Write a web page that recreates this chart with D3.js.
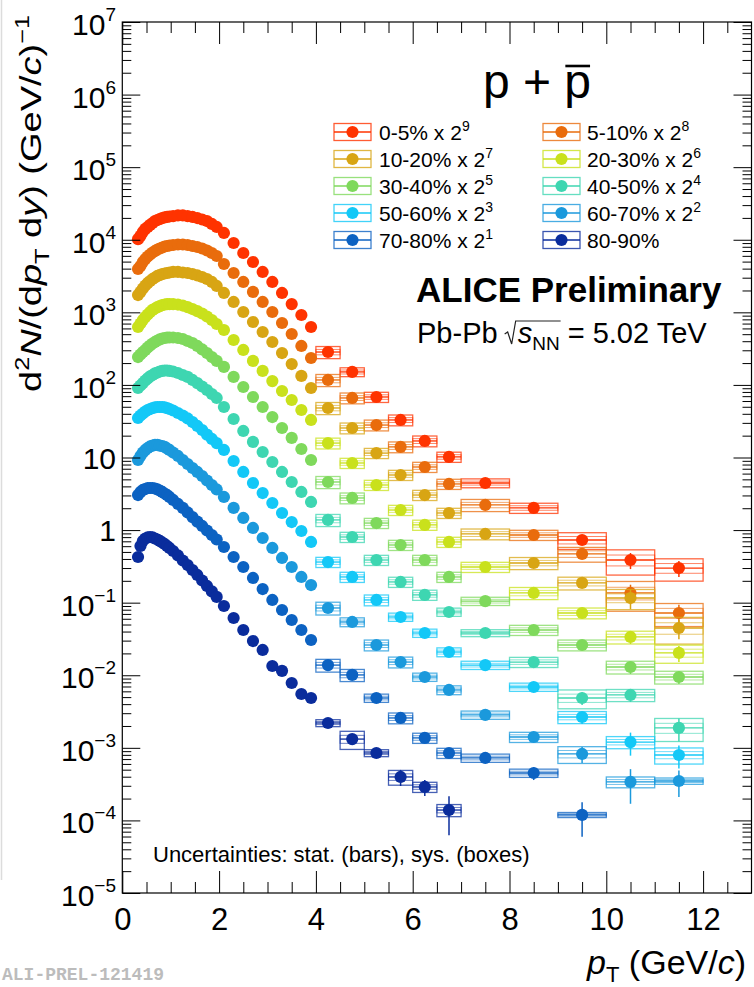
<!DOCTYPE html>
<html><head><meta charset="utf-8">
<script src="https://cdn.jsdelivr.net/npm/d3@7"></script>
<style>
html,body{margin:0;padding:0;background:#fff;}
svg{display:block;font-family:"Liberation Sans",Arial,Helvetica,sans-serif;}
</style></head><body>
<svg id="chart" width="754" height="987"></svg>
<script>
// ---------------- DATA ----------------
const ptEdges = [0.30,0.35,0.40,0.45,0.50,0.55,0.60,0.65,0.70,0.75,0.80,0.85,0.90,0.95,1.00,
  1.10,1.20,1.30,1.40,1.50,1.60,1.70,1.80,1.90,2.00,2.20,2.40,2.60,2.80,3.00,3.20,3.40,3.60,3.80,4.00,
  4.50,5.00,5.50,6.00,6.50,7.00,8.00,9.00,10.00,11.00,12.00];
const ptCenters = [0.325,0.375,0.425,0.475,0.525,0.575,0.625,0.675,0.725,0.775,0.825,0.875,0.925,0.975,
  1.05,1.15,1.25,1.35,1.45,1.55,1.65,1.75,1.85,1.95,2.1,2.3,2.5,2.7,2.9,3.1,3.3,3.5,3.7,3.9,
  4.25,4.75,5.25,5.75,6.25,6.75,7.5,8.5,9.5,10.5,11.5];

const centralities = ["0-5%","5-10%","10-20%","20-30%","30-40%","40-50%","50-60%","60-70%","70-80%","80-90%"];
const scaleExponents = [9,8,7,6,5,4,3,2,1,null];
const colors = ["#ff3300","#e96c0c","#d8a514","#c9e11c","#7fd95c","#3ed6b1","#13c8f7","#1b99dc","#0c62c2","#0a2c9c"];

const yield0_5 = [1.02e4,1.13e4,1.28e4,1.41e4,1.50e4,1.60e4,1.70e4,1.81e4,1.87e4,1.93e4,1.99e4,2.03e4,2.06e4,2.09e4,
  2.12e4,2.16e4,2.16e4,2.12e4,2.06e4,1.99e4,1.90e4,1.81e4,1.65e4,1.50e4,1.24e4,9020,6570,4940,3600,2620,1850,1300,919,628,
  284,151,68.2,32.9,16.9,10.2,4.45,2.02,0.730,0.387,0.300];
const yield5_10 = [3960,4350,4940,5430,5880,6260,6670,7000,7340,7580,7820,8070,8200,8330,
  8470,8600,8600,8470,8200,7950,7580,7110,6570,5970,4630,3480,2620,1910,1390,1010,713,503,344,235,
  117,66.1,28.0,14.0,7.40,4.32,2.22,0.856,0.469,0.136,0.0721];
const yield10_20 = [1730,1910,2130,2340,2540,2700,2880,3020,3170,3270,3370,3430,3480,3540,
  3600,3600,3540,3480,3370,3220,3070,2880,2620,2310,1850,1390,1010,736,536,390,275,194,133,90.7,
  48.1,25.5,11.5,5.74,3.04,1.72,0.884,0.352,0.187,0.116,0.0448];
const yield20_30 = [628,702,784,863,934,1010,1080,1130,1180,1220,1260,1280,1300,1300,
  1300,1280,1240,1180,1110,1040,964,876,784,691,571,416,303,214,156,113,82.5,62.0,45.1,32.9,
  15.8,8.40,4.18,1.89,1.18,0.686,0.310,0.136,0.0721,0.0337,0.0203];
const yield30_40 = [242,262,284,303,328,349,372,390,409,423,436,443,450,450,
  450,443,429,403,378,344,308,275,242,214,177,129,93.6,68.2,49.6,36.1,25.5,18.6,13.1,9.24,
  4.60,2.77,1.25,0.623,0.387,0.226,0.105,0.0420,0.0261,0.0130,0.00946];
const yield40_50 = [90.7,98.2,106,115,123,131,137,144,148,153,156,158,158,156,
  153,146,137,129,117,106,95.1,85.1,75.0,66.1,49.6,33.9,23.2,16.4,11.9,8.67,6.32,4.60,3.35,2.44,
  1.38,0.803,0.387,0.193,0.128,0.0744,0.0382,0.0152,0.00486,0.00535,0.00188];
const yield50_60 = [35.0,37.9,40.4,43.0,45.1,46.6,48.1,48.9,49.6,49.6,49.6,48.9,48.1,46.6,
  44.4,41.0,37.9,34.5,30.8,27.2,23.9,20.7,18.0,15.8,12.7,8.95,6.32,4.45,3.24,2.36,1.72,1.29,0.972,0.686,
  0.363,0.226,0.109,0.0635,0.0382,0.0209,0.0138,0.00689,0.00266,0.00120,0.000797];
const yield60_70 = [9.24,10.5,11.7,12.7,13.5,14.2,14.6,14.9,14.9,14.6,14.4,14.0,13.3,12.7,
  11.7,10.5,9.24,8.14,7.17,6.32,5.56,4.82,4.18,3.63,2.86,2.02,1.47,1.07,0.778,0.567,0.413,0.310,0.226,0.175,
  0.0845,0.0542,0.0261,0.0152,0.00946,0.00627,0.00284,0.00141,0.000823,0.000339,0.000349];
const yield70_80 = [3.04,3.35,3.57,3.68,3.80,3.80,3.80,3.74,3.63,3.51,3.35,3.19,3.04,2.86,
  2.60,2.29,2.02,1.75,1.51,1.31,1.14,0.987,0.856,0.742,0.585,0.426,0.310,0.219,0.154,0.109,0.0793,0.0577,0.0420,0.0306,
  0.0138,0.0101,0.00486,0.00258,0.00137,0.000849,0.000725,0.000450,0.000119];
const yield80_90 = [0.426,0.604,0.708,0.766,0.791,0.803,0.791,0.766,0.742,0.708,0.675,0.643,0.604,0.567,
  0.515,0.447,0.381,0.330,0.282,0.241,0.202,0.170,0.143,0.120,0.0900,0.0615,0.0420,0.0296,0.0223,0.0134,0.0115,0.00782,0.00552,0.00486,
  0.00220,0.00132,0.000849,0.000397,0.000289,0.000139];

// relative systematic (boxes) and statistical (bars) uncertainties for pT > 4 GeV/c bins
const highPtStart = 34;
const sys0_5   = [0.19,0.14,0.16,0.17,0.17,0.16,0.14,0.16,0.26,0.38,0.34];
const sys5_10  = [0.19,0.17,0.17,0.17,0.16,0.16,0.19,0.16,0.23,0.44,0.35];
const sys10_20 = [0.19,0.17,0.16,0.16,0.16,0.16,0.17,0.19,0.20,0.31,0.40];
const sys20_30 = [0.17,0.16,0.16,0.16,0.16,0.16,0.16,0.19,0.17,0.20,0.28];
const sys30_40 = [0.19,0.17,0.16,0.16,0.16,0.16,0.13,0.16,0.17,0.20,0.20];
const sys40_50 = [0.19,0.16,0.16,0.16,0.16,0.13,0.11,0.16,0.29,0.19,0.35];
const sys50_60 = [0.16,0.16,0.17,0.13,0.13,0.14,0.13,0.13,0.19,0.19,0.25];
const sys60_70 = [0.20,0.14,0.17,0.17,0.13,0.14,0.13,0.16,0.26,0.17,0.10];
const sys70_80 = [0.20,0.19,0.13,0.17,0.16,0.16,0.13,0.13,0.08];
const sys80_90 = [0.11,0.28,0.11,0.23,0.16,0.19];
const stat0_5   = [0.02,0.02,0.03,0.03,0.04,0.05,0.05,0.07,0.12,0.25,0.25];
const stat5_10  = [0.02,0.03,0.03,0.04,0.05,0.05,0.06,0.08,0.12,0.30,0.30];
const stat10_20 = [0.02,0.03,0.03,0.04,0.05,0.06,0.06,0.08,0.12,0.30,0.30];
const stat20_30 = [0.03,0.03,0.04,0.04,0.05,0.06,0.07,0.09,0.12,0.20,0.25];
const stat30_40 = [0.03,0.03,0.04,0.05,0.06,0.07,0.08,0.10,0.12,0.20,0.20];
const stat40_50 = [0.03,0.04,0.05,0.06,0.07,0.08,0.09,0.12,0.20,0.20,0.35];
const stat50_60 = [0.04,0.05,0.06,0.07,0.08,0.10,0.10,0.12,0.20,0.35,0.35];
const stat60_70 = [0.05,0.06,0.07,0.08,0.10,0.12,0.12,0.15,0.25,0.50,0.40];
const stat70_80 = [0.06,0.08,0.10,0.10,0.12,0.15,0.15,0.20,0.50];
const stat80_90 = [0.08,0.10,0.15,0.25,0.25,0.55];

const xMajorTicks = [0,2,4,6,8,10,12];
const yDecades = [1e7,1e6,1e5,1e4,1e3,1e2,10,1,1e-1,1e-2,1e-3,1e-4,1e-5];
const yTickBase = ["10","10","10","10","10","10","10","1","10","10","10","10","10"];
const yTickSup  = ["7","6","5","4","3","2","","","\u22121","\u22122","\u22123","\u22124","\u22125"];

const seriesYields = [yield0_5,yield5_10,yield10_20,yield20_30,yield30_40,yield40_50,yield50_60,yield60_70,yield70_80,yield80_90];
const seriesSys = [sys0_5,sys5_10,sys10_20,sys20_30,sys30_40,sys40_50,sys50_60,sys60_70,sys70_80,sys80_90];
const seriesStat = [stat0_5,stat5_10,stat10_20,stat20_30,stat30_40,stat40_50,stat50_60,stat60_70,stat70_80,stat80_90];

// ---------------- CHART ----------------
const svg = d3.select("#chart");
const X0 = 122.3, X1 = 751.5, Y0 = 893, Y1 = 22;
const x = d3.scaleLinear().domain([0,13]).range([X0,X1]);
const y = d3.scaleLog().domain([1e-5,1e7]).range([Y0,Y1]);

svg.append("line").attr("x1",1.5).attr("x2",1.5).attr("y1",0).attr("y2",880)
  .attr("stroke","#dcdcdc").attr("stroke-width",1.5);

function richText(parent, parts, attrs){
  const t = parent.append("text");
  Object.entries(attrs).forEach(([k,v])=>t.attr(k,v));
  let shift = 0;
  parts.forEach(p=>{
    const ts = t.append("tspan").text(p.t);
    const target = p.sup ? -p.sup : (p.sub ? p.sub : 0);
    const dy = target - shift;
    if (dy) ts.attr("dy", dy);
    shift = target;
    if (p.it) ts.attr("font-style","italic");
    if (p.size) ts.attr("font-size", p.size);
    if (p.dx) ts.attr("dx", p.dx);
  });
  return t;
}

// data
const plot = svg.append("g");
seriesYields.forEach((vals, si)=>{
  const col = colors[si];
  const g = plot.append("g");
  vals.forEach((v,i)=>{
    const xl = x(ptEdges[i]), xr = x(ptEdges[i+1]), cx = x(ptCenters[i]), cy = y(v);
    if (i >= highPtStart){
      const s = seriesSys[si][i-highPtStart], st = seriesStat[si][i-highPtStart];
      g.append("rect").attr("x",xl).attr("width",xr-xl)
        .attr("y",y(v*(1+s))).attr("height",y(v*(1-s))-y(v*(1+s)))
        .attr("fill","none").attr("stroke",col).attr("stroke-width",1.3).attr("stroke-opacity",0.75);
      const s2 = s*0.45;
      g.append("rect").attr("x",xl).attr("width",xr-xl)
        .attr("y",y(v*(1+s2))).attr("height",y(v*(1-s2))-y(v*(1+s2)))
        .attr("fill","none").attr("stroke",col).attr("stroke-width",1).attr("stroke-opacity",0.6);
      g.append("line").attr("x1",cx).attr("x2",cx)
        .attr("y1",y(v*(1+st))).attr("y2",y(v*Math.max(1-st,0.01)))
        .attr("stroke",col).attr("stroke-width",1.5);
    }
    g.append("line").attr("x1",xl).attr("x2",xr).attr("y1",cy).attr("y2",cy)
      .attr("stroke",col).attr("stroke-width",1.3);
  });
  g.selectAll("circle.m").data(vals).join("circle").attr("class","m")
    .attr("cx",(d,i)=>x(ptCenters[i])).attr("cy",d=>y(d)).attr("r",6.1).attr("fill",col);
});

// axes
function styleAxis(sel){ sel.select(".domain").remove(); sel.selectAll(".tick line").attr("stroke","#000").attr("stroke-width",1); }
const xMinor = d3.range(0,13.01,0.5).filter(v=>!xMajorTicks.includes(v) && v<13);
const yMinor = [];
for (let e=-5;e<7;e++) for (let k=2;k<=9;k++) yMinor.push(k*Math.pow(10,e));

const gx = svg.append("g").attr("transform",`translate(0,${Y0})`)
  .call(d3.axisBottom(x).tickValues(xMajorTicks).tickSize(-22).tickPadding(15).tickFormat(d3.format("d")));
styleAxis(gx);
gx.selectAll(".tick text").attr("font-size",31).attr("font-family","Liberation Sans, Arial, sans-serif").attr("fill","#000");
svg.append("g").attr("transform",`translate(0,${Y0})`).call(d3.axisBottom(x).tickValues(xMinor).tickSize(-11).tickFormat("")).call(styleAxis);
svg.append("g").attr("transform",`translate(0,${Y1})`).call(d3.axisTop(x).tickValues(xMajorTicks).tickSize(-22).tickFormat("")).call(styleAxis);
svg.append("g").attr("transform",`translate(0,${Y1})`).call(d3.axisTop(x).tickValues(xMinor).tickSize(-11).tickFormat("")).call(styleAxis);
svg.append("g").attr("transform",`translate(${X0},0)`).call(d3.axisLeft(y).tickValues(yDecades).tickSize(-18).tickFormat("")).call(styleAxis);
svg.append("g").attr("transform",`translate(${X0},0)`).call(d3.axisLeft(y).tickValues(yMinor).tickSize(-9).tickFormat("")).call(styleAxis);
svg.append("g").attr("transform",`translate(${X1},0)`).call(d3.axisRight(y).tickValues(yDecades).tickSize(-18).tickFormat("")).call(styleAxis);
svg.append("g").attr("transform",`translate(${X1},0)`).call(d3.axisRight(y).tickValues(yMinor).tickSize(-9).tickFormat("")).call(styleAxis);
svg.append("rect").attr("x",X0).attr("y",Y1).attr("width",X1-X0).attr("height",Y0-Y1)
  .attr("fill","none").attr("stroke","#000").attr("stroke-width",1.2);

// y tick labels
yDecades.forEach((d,i)=>{
  const parts = [{t:yTickBase[i]}];
  if (yTickSup[i]) parts.push({t:yTickSup[i], sup:14, size:19});
  richText(svg, parts, {x:116, y:y(d) + (yTickSup[i] ? 13 : 11), "text-anchor":"end", "font-size":30, fill:"#000"});
});

// axis titles
richText(svg, [{t:"d"},{t:"2",sup:12,size:20},{t:"N",it:1},{t:"/(d"},{t:"p",it:1},{t:"T",sub:8,size:20},
  {t:" d"},{t:"y",it:1},{t:") (GeV/"},{t:"c",it:1},{t:")"},{t:"\u22121",sup:12,size:20}],
  {transform:"translate(41,15) rotate(-90)", "text-anchor":"end", "font-size":30, fill:"#000",
   textLength:377, lengthAdjust:"spacingAndGlyphs"});
richText(svg, [{t:"p",it:1},{t:"T",sub:8,size:22},{t:" (GeV/"},{t:"c",it:1},{t:")"}],
  {x:746, y:974, "text-anchor":"end", "font-size":34, fill:"#000"});

// title p + pbar
const tt = svg.append("text").attr("x",537).attr("y",98).attr("text-anchor","middle")
  .attr("font-size",48).attr("fill","#000").text("p + p");
{
  const a = tt.node().getStartPositionOfChar(4), b = tt.node().getEndPositionOfChar(4);
  svg.append("line").attr("x1",a.x+1).attr("x2",b.x-1).attr("y1",66).attr("y2",66)
    .attr("stroke","#000").attr("stroke-width",2.6);
}

// legend
const legRows = [132,159,186,213,240], legIconX = [334,543], legTextX = [379,587];
centralities.forEach((c,i)=>{
  const col = i%2, row = Math.floor(i/2);
  const cy = legRows[row], ix = legIconX[col];
  const g = svg.append("g");
  g.append("rect").attr("x",ix).attr("y",cy-8.5).attr("width",37).attr("height",17)
    .attr("fill","none").attr("stroke",colors[i]).attr("stroke-width",1.3).attr("stroke-opacity",0.8);
  g.append("line").attr("x1",ix).attr("x2",ix+37).attr("y1",cy).attr("y2",cy)
    .attr("stroke",colors[i]).attr("stroke-width",1.3);
  g.append("circle").attr("cx",ix+18.5).attr("cy",cy).attr("r",6.1).attr("fill",colors[i]);
  const parts = [{t: scaleExponents[i]!==null ? c + " x 2" : c}];
  if (scaleExponents[i]!==null) parts.push({t:String(scaleExponents[i]), sup:9, size:14});
  richText(svg, parts, {x:legTextX[col], y:cy+7.5, "font-size":21, fill:"#000"});
});

// ALICE labels
svg.append("text").attr("x",416).attr("y",302).attr("font-size",35).attr("font-weight","bold")
  .attr("fill","#000").text("ALICE Preliminary");
const en = richText(svg, [{t:"Pb-Pb "},{t:"s",it:1,dx:12},{t:"NN",sub:7,size:19},{t:" = 5.02 TeV",sub:0}],
  {x:417, y:343, "font-size":29, fill:"#000"});
{
  const n = en.node();
  const sPos = n.getStartPositionOfChar(6), nnEnd = n.getEndPositionOfChar(8);
  const x0 = sPos.x - 13, by = 343;
  svg.append("path").attr("d",`M${x0},${by-9} L${x0+3},${by-11} L${x0+7},${by+1} L${x0+11},${by-22} L${nnEnd.x+1},${by-22}`)
    .attr("fill","none").attr("stroke","#222").attr("stroke-width",1.2);
}

svg.append("text").attr("x",153).attr("y",862).attr("font-size",22).attr("fill","#000")
  .text("Uncertainties: stat. (bars), sys. (boxes)");
svg.append("text").attr("x",2).attr("y",980).attr("font-size",18).attr("font-weight","bold")
  .attr("font-family","Liberation Mono, DejaVu Sans Mono, monospace").attr("fill","#bcbcbc").text("ALI-PREL-121419");
</script>
</body></html>
